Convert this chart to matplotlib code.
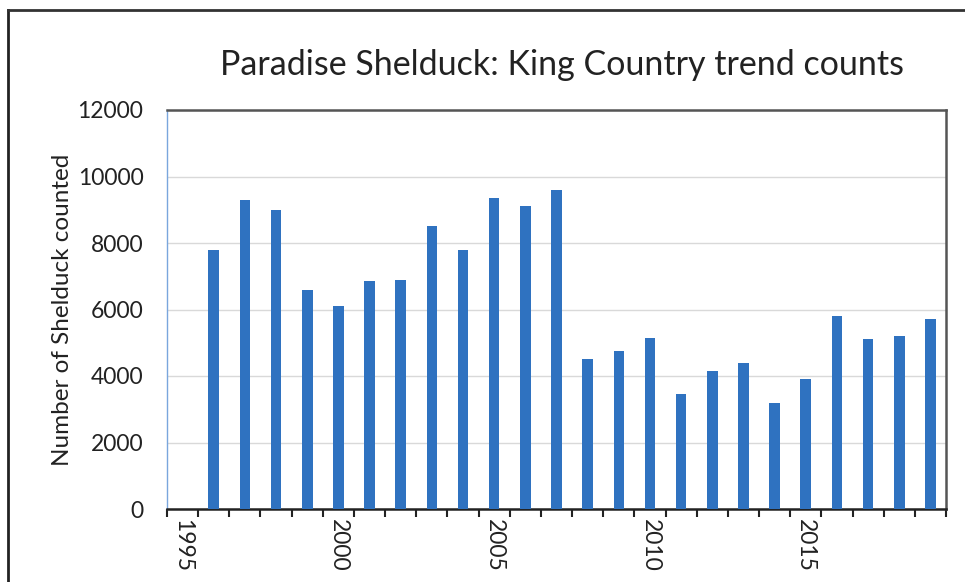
import numpy as np
import matplotlib.pyplot as plt
from matplotlib.lines import Line2D
from matplotlib.ticker import FixedLocator

years = list(range(1995, 2020))
counts = [0, 7800, 9300, 9000, 6600, 6100, 6850, 6900, 8500, 7800,
          9350, 9100, 9600, 4500, 4750, 5150, 3450, 4150, 4380, 3180,
          3900, 5800, 5100, 5200, 5700]
label_years = [1995, 2000, 2005, 2010, 2015]

plt.rcParams['font.family'] = ['Lato', 'DejaVu Sans']

fig = plt.figure(figsize=(9.65, 5.82), dpi=100)
ax = fig.add_axes([167/965, 1 - 509/582, (946 - 167)/965, (509 - 110)/582])

x = np.arange(len(years))
ax.bar(x, counts, width=0.34, color='#2F72C0', zorder=3)

ax.set_xlim(-0.5, len(years) - 0.5)
ax.set_ylim(0, 12000)
ax.set_yticks(np.arange(0, 12001, 2000))
ax.yaxis.grid(True, color='#d9d9d9', lw=1, zorder=0)
ax.tick_params(axis='y', length=0, pad=17, labelsize=16.5, labelcolor='#222222')

major = [years.index(y) for y in label_years]
ax.set_xticks(major)
ax.set_xticklabels([str(y) for y in label_years], rotation=270, fontsize=16.5,
                   color='#222222', va='top', ha='center')
ax.tick_params(axis='x', which='major', length=0, pad=7)
ax.xaxis.set_minor_locator(FixedLocator(np.arange(-0.5, len(years), 1)))
ax.tick_params(axis='x', which='minor', length=6, width=1.5, color='#222222', direction='out')

ax.spines['left'].set_color('#7aa6dd')
ax.spines['left'].set_linewidth(1)
ax.spines['bottom'].set_color('#222222')
ax.spines['bottom'].set_linewidth(1.8)
for s in ['top', 'right']:
    ax.spines[s].set_color('#555555')
    ax.spines[s].set_linewidth(1.8)

ax.set_ylabel('Number of Shelduck counted', fontsize=17.5, color='#222222', labelpad=3)
fig.text(562/965, 1 - 65/582, 'Paradise Shelduck: King Country trend counts',
         fontsize=24.5, ha='center', va='center', color='#222222')

# outer frame (left and top edges visible in the scan)
fig.add_artist(Line2D([8/965, 8/965], [0, 1 - 10/582], transform=fig.transFigure,
                      color='#222222', lw=2))
fig.add_artist(Line2D([8/965, 1], [1 - 10/582, 1 - 10/582], transform=fig.transFigure,
                      color='#333333', lw=2))

fig.savefig('out.png', dpi=100)
